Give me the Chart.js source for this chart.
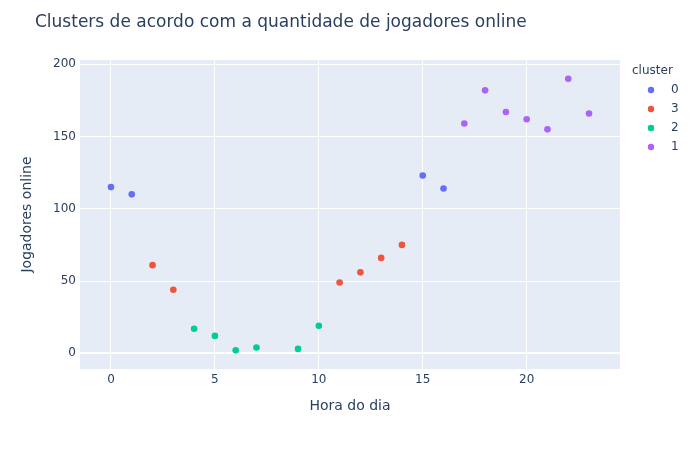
<!DOCTYPE html>
<html>
<head>
<meta charset="utf-8">
<script src="https://cdn.jsdelivr.net/npm/chart.js@4.4.1/dist/chart.umd.min.js"></script>
<style>
  html, body { margin: 0; padding: 0; background: #ffffff; }
  #wrap { width: 700px; height: 450px; }
</style>
</head>
<body>
<div id="wrap"><canvas id="c" width="700" height="450"></canvas></div>
<script>
// ---- data ----
const hours    = [0, 1, 2, 3, 4, 5, 6, 7, 9, 10, 11, 12, 13, 14, 15, 16, 17, 18, 19, 20, 21, 22, 23];
const players  = [115, 110, 61, 44, 17, 12, 2, 4, 3, 19, 49, 56, 66, 75, 123, 114, 159, 182, 167, 162, 155, 190, 166];
const clusters = ['0', '0', '3', '3', '2', '2', '2', '2', '2', '2', '3', '3', '3', '3', '0', '0', '1', '1', '1', '1', '1', '1', '1'];
const clusterOrder = ['0', '3', '2', '1'];
const clusterColors = ['#636efa', '#EF553B', '#00cc96', '#ab63fa'];
const xTicksStep = 5;
const yTicksStep = 50;

const titleText = 'Clusters de acordo com a quantidade de jogadores online';
const xTitle = 'Hora do dia';
const yTitle = 'Jogadores online';
const legendTitle = 'cluster';

const FONT = '"DejaVu Sans", verdana, arial, sans-serif';
const TXT = '#2a3f5f';

const datasets = clusterOrder.map((c, i) => ({
  label: c,
  data: hours.map((h, k) => ({x: h, y: players[k], c: clusters[k]}))
             .filter(p => p.c === c).map(p => ({x: p.x, y: p.y})),
  backgroundColor: clusterColors[i],
  borderColor: clusterColors[i],
  borderWidth: 0,
  pointRadius: 3.3,
  pointHoverRadius: 3.3,
  showLine: false
}));

const plotlyDecor = {
  id: 'plotlyDecor',
  beforeDraw(chart) {
    const {ctx, chartArea: a} = chart;
    ctx.save();
    ctx.fillStyle = '#E5ECF6';
    ctx.fillRect(a.left, a.top, a.right - a.left, a.bottom - a.top);
    ctx.restore();
  },
  afterDraw(chart) {
    const {ctx} = chart;
    ctx.save();
    // title
    ctx.fillStyle = TXT;
    ctx.font = '17px ' + FONT;
    ctx.textAlign = 'left';
    ctx.textBaseline = 'middle';
    ctx.fillText(titleText, 35, 23);
    // legend
    ctx.font = '12px ' + FONT;
    ctx.fillText(legendTitle, 632, 71);
    chart.data.datasets.forEach((ds, i) => {
      const y = 90 + i * 19;
      ctx.beginPath();
      ctx.fillStyle = ds.backgroundColor;
      ctx.arc(651, y, 3.2, 0, Math.PI * 2);
      ctx.fill();
      ctx.fillStyle = TXT;
      ctx.fillText(ds.label, 671, y);
    });
    ctx.restore();
  }
};

new Chart(document.getElementById('c'), {
  type: 'scatter',
  data: { datasets },
  plugins: [plotlyDecor],
  options: {
    responsive: false,
    animation: false,
    layout: { padding: { left: 0, right: 80, top: 60, bottom: 0 } },
    plugins: {
      legend: { display: false },
      title: { display: false },
      tooltip: { enabled: false }
    },
    scales: {
      x: {
        type: 'linear',
        min: -1.49, max: 24.49,
        afterFit: s => { s.height = 81; },
        border: { display: false },
        grid: {
          color: '#ffffff',
          lineWidth: 1,
          drawTicks: false
        },
        ticks: {
          stepSize: xTicksStep,
          includeBounds: false,
          color: TXT,
          padding: 4,
          maxRotation: 0,
          font: { family: FONT, size: 12 }
        },
        title: {
          display: true,
          text: xTitle,
          color: TXT,
          font: { family: FONT, size: 14 },
          padding: { top: 0, bottom: 35.6 }
        }
      },
      y: {
        type: 'linear',
        min: -10.9, max: 203,
        afterFit: s => { s.width = 80; },
        border: { display: false },
        grid: {
          color: '#ffffff',
          lineWidth: c => (c.tick && c.tick.value === 0) ? 2 : 1,
          drawTicks: false
        },
        ticks: {
          stepSize: yTicksStep,
          includeBounds: false,
          color: TXT,
          padding: 4,
          font: { family: FONT, size: 12 }
        },
        title: {
          display: true,
          text: yTitle,
          color: TXT,
          font: { family: FONT, size: 14 },
          padding: { top: 19, bottom: 0 }
        }
      }
    }
  }
});
</script>
</body>
</html>
